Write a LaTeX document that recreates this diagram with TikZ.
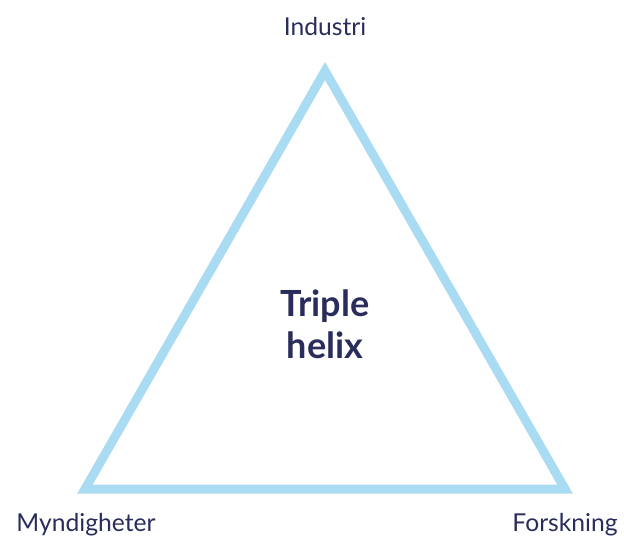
\documentclass[tikz,border=0pt]{standalone}
\usepackage{fontspec}
\setmainfont{Lato}
\usepackage{tikz}
\definecolor{helixblue}{HTML}{A9DCF3}
\definecolor{helixnavy}{HTML}{2A2D5C}

\begin{document}
\begin{tikzpicture}[x=0.75pt, y=-0.75pt,
                    corner/.style={text=helixnavy, font=\fontsize{18.5}{22}\selectfont, anchor=base},
                    centre/.style={text=helixnavy, font=\fontsize{27}{31.5}\selectfont\bfseries, align=center}]
                    \useasboundingbox (0,0) rectangle (624,535);
                    \coordinate (top) at (325,71);
                    \coordinate (left) at (85,489);
                    \coordinate (right) at (565,489);
                    \draw[helixblue, line width=6.75pt] (top) -- (left) -- (right) -- cycle;
                    \node[corner] (industri) at (325,36) {Industri};
                    \node[corner] (myndigheter) at (86,531) {Myndigheter};
                    \node[corner] (forskning) at (565,531) {Forskning};
                    \node[centre] (helix) at (325,324) {Triple\\helix};
                \end{tikzpicture}
\end{document}
